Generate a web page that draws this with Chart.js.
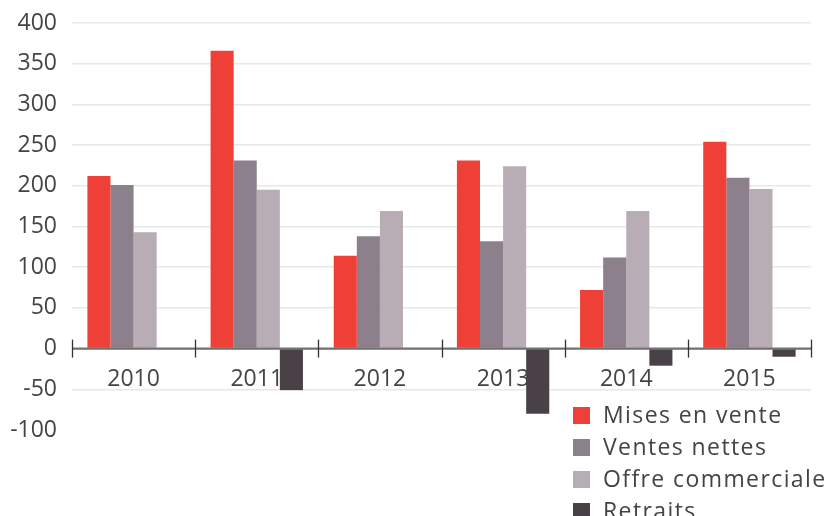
<!DOCTYPE html>
<html>
<head>
<meta charset="utf-8">
<script src="https://cdn.jsdelivr.net/npm/chart.js@4/dist/chart.umd.min.js"></script>
<style>
  body { margin: 0; background: #fff; }
  #wrap { position: relative; width: 828px; height: 516px; overflow: hidden; }
  #legende { position: absolute; left: 573px; top: 398px; font-family: "Open Sans", sans-serif; font-size: 23px; letter-spacing: 1.4px; color: #444; }
  #legende div { height: 32px; line-height: 32px; white-space: nowrap; }
  #legende span { display: inline-block; width: 17px; height: 17px; margin-right: 13px; vertical-align: -1px; }
</style>
</head>
<body>
<div id="wrap">
  <canvas id="graphique" width="828" height="516"></canvas>
  <div id="legende"></div>
</div>
<script>
const annees = ["2010", "2011", "2012", "2013", "2014", "2015"];
const misesEnVente = [212, 366, 114, 231, 72, 254];
const ventesNettes = [201, 231, 138, 132, 112, 210];
const offreCommerciale = [143, 195, 169, 224, 169, 196];
const retraits = [0, -51, 0, -80, -21, -10];

const series = [
  { label: "Mises en vente", data: misesEnVente, color: "#ee4037" },
  { label: "Ventes nettes", data: ventesNettes, color: "#8c808c" },
  { label: "Offre commerciale", data: offreCommerciale, color: "#b8adb5" },
  { label: "Retraits", data: retraits, color: "#4a4147" },
];

// axe à zéro + petites graduations entre les années
const axeZero = {
  id: "axeZero",
  afterDatasetsDraw(chart) {
    const ctx = chart.ctx;
    const x = chart.scales.x;
    const y0 = chart.scales.y.getPixelForValue(0);
    ctx.save();
    ctx.strokeStyle = "rgba(100,100,100,0.9)";
    ctx.lineWidth = 2.3;
    ctx.beginPath();
    ctx.moveTo(x.left, y0);
    ctx.lineTo(x.right, y0);
    ctx.stroke();
    ctx.strokeStyle = "#333";
    ctx.lineWidth = 1.3;
    const pas = x.width / annees.length;
    for (let i = 0; i <= annees.length; i++) {
      const px = Math.round(x.left + i * pas) + 0.5;
      ctx.beginPath();
      ctx.moveTo(px, y0 - 9);
      ctx.lineTo(px, y0 + 9);
      ctx.stroke();
    }
    ctx.restore();
  },
};

new Chart(document.querySelector("#graphique"), {
  type: "bar",
  data: {
    labels: annees,
    datasets: series.map((s) => ({
      label: s.label,
      data: s.data,
      backgroundColor: s.color,
      borderWidth: 0,
      categoryPercentage: 0.75,
      barPercentage: 1,
    })),
  },
  options: {
    responsive: false,
    animation: false,
    layout: { padding: { top: 23, right: 17, bottom: 86, left: 0 } },
    plugins: {
      legend: { display: false },
      tooltip: { enabled: false },
    },
    scales: {
      x: {
        position: { y: 0 },
        grid: { display: false, drawTicks: true, tickLength: 9 },
        border: { display: false },
        ticks: { color: "#444", font: { family: "Open Sans", size: 23 }, padding: 8, maxRotation: 0 },
      },
      y: {
        min: -100,
        max: 400,
        afterFit(scale) {
          scale.width = 72;
          scale.paddingTop = 0;
          scale.paddingBottom = 0;
        },
        ticks: { stepSize: 50, color: "#444", font: { family: "Open Sans", size: 23 }, padding: 15 },
        grid: {
          drawTicks: false,
          lineWidth: 1.5,
          color: (c) => (c.tick && c.tick.value === -100 ? "rgba(0,0,0,0)" : "#e8e8e8"),
        },
        border: { display: false },
      },
    },
  },
  plugins: [axeZero],
});

const legende = document.querySelector("#legende");
series.forEach((s) => {
  const ligne = document.createElement("div");
  const carre = document.createElement("span");
  carre.style.background = s.color;
  ligne.appendChild(carre);
  ligne.appendChild(document.createTextNode(s.label));
  legende.appendChild(ligne);
});
</script>
</body>
</html>
